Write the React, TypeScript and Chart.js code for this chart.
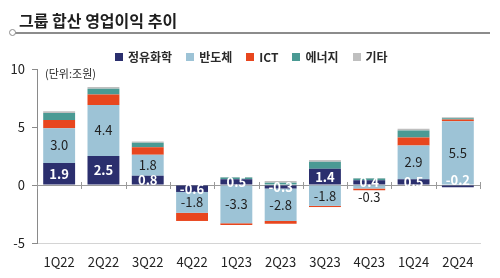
import React, { useEffect, useRef } from "react";
import { Chart, registerables } from "chart.js";

Chart.register(...registerables);

// Quarterly operating profit by business group (unit: trillion KRW)
const quarters = ["1Q22", "2Q22", "3Q22", "4Q22", "1Q23", "2Q23", "3Q23", "4Q23", "1Q24", "2Q24"];
const refining = [1.9, 2.5, 0.8, -0.6, 0.5, -0.3, 1.4, 0.4, 0.5, -0.2];
const semiconductor = [3.0, 4.4, 1.8, -1.8, -3.3, -2.8, -1.8, -0.3, 2.9, 5.5];
const ict = [0.7, 0.9, 0.65, -0.7, -0.15, -0.25, -0.1, -0.15, 0.7, 0.15];
const energy = [0.6, 0.5, 0.4, 0, 0.15, 0.2, 0.6, 0.15, 0.6, 0.1];
const others = [0.15, 0.15, 0.1, 0, 0.05, 0.15, 0.15, 0.05, 0.15, 0.1];

const seriesNames = ["정유화학", "반도체", "ICT", "에너지", "기타"];
const seriesColors = ["#2B2F6E", "#9DC3D6", "#E8461E", "#4A9A94", "#BFBFBF"];
const seriesValues = [refining, semiconductor, ict, energy, others];

const yMin = -5;
const yMax = 10;
const yStep = 5;

const FONT = '"Noto Sans CJK KR", "Noto Sans", sans-serif';

// Zero baseline with category separators
const zeroLinePlugin = {
  id: "zeroLine",
  beforeDatasetsDraw(chart: any) {
    const { ctx, chartArea, scales } = chart;
    const y0 = scales.y.getPixelForValue(0);
    const xs = scales.x;
    ctx.save();
    ctx.strokeStyle = "#9a9a9a";
    ctx.lineWidth = 1;
    ctx.beginPath();
    ctx.moveTo(chartArea.left, Math.round(y0) + 0.5);
    ctx.lineTo(chartArea.right, Math.round(y0) + 0.5);
    const n = quarters.length;
    for (let i = 0; i <= n; i++) {
      let x;
      if (i === 0) x = chartArea.left;
      else if (i === n) x = chartArea.right;
      else x = (xs.getPixelForValue(i - 1) + xs.getPixelForValue(i)) / 2;
      x = Math.round(x) + 0.5;
      ctx.moveTo(x, y0 - 3);
      ctx.lineTo(x, y0 + 4);
    }
    ctx.stroke();
    ctx.restore();
  },
};

// Value labels for the refining and semiconductor segments
const valueLabelPlugin = {
  id: "valueLabels",
  afterDatasetsDraw(chart: any) {
    const { ctx } = chart;
    ctx.save();
    ctx.textAlign = "center";
    ctx.textBaseline = "middle";
    [0, 1].forEach((di) => {
      const meta = chart.getDatasetMeta(di);
      const values = chart.data.datasets[di].data as number[];
      meta.data.forEach((bar: any, i: number) => {
        const v = values[i];
        const { x, y, base } = bar.getProps(["x", "y", "base"], true);
        const h = Math.abs(base - y);
        let ty = (y + base) / 2;
        const color = di === 0 ? "#ffffff" : "#1f1f1f";
        if (di === 1 && h < 10) {
          // too thin to hold its label: put it just past the bar end
          ty = v < 0 ? Math.max(y, base) + 9 : Math.min(y, base) - 9;
        } else if (di === 0 && h < 2.5) {
          // hairline segment: lift the label onto the neighbouring bar
          ty = base - 5;
        }
        ctx.font = (di === 0 ? "bold " : "") + "13px " + FONT;
        ctx.fillStyle = color;
        ctx.fillText(v.toFixed(1), x, ty);
      });
    });
    ctx.restore();
  },
};

function StackedChart() {
  const canvasRef = useRef<HTMLCanvasElement | null>(null);

  useEffect(() => {
    if (!canvasRef.current) return;
    const chart = new Chart(canvasRef.current, {
      type: "bar",
      data: {
        labels: quarters,
        datasets: seriesNames.map((name, k) => ({
          label: name,
          data: seriesValues[k],
          backgroundColor: seriesColors[k],
          borderWidth: 0,
          barPercentage: 0.72,
          categoryPercentage: 1,
        })),
      },
      options: {
        responsive: false,
        animation: false,
        devicePixelRatio: 1,
        layout: { padding: { top: 69, right: 20, bottom: 0, left: 0 } },
        plugins: {
          legend: { display: false },
          tooltip: { enabled: false },
          title: { display: false },
        },
        scales: {
          x: {
            stacked: true,
            grid: { display: false, drawTicks: false },
            border: { display: true, color: "#d4d4d4", width: 1 },
            ticks: {
              color: "#222222",
              font: { family: FONT, size: 13 },
              padding: 11,
            },
            afterFit(scale: any) {
              scale.height = 35;
            },
          },
          y: {
            stacked: true,
            min: yMin,
            max: yMax,
            grid: {
              display: true,
              drawOnChartArea: false,
              drawTicks: true,
              tickLength: 5,
              color: "#8a8a8a",
            },
            border: { display: true, color: "#8a8a8a", width: 1 },
            ticks: {
              stepSize: yStep,
              color: "#222222",
              font: { family: FONT, size: 13 },
              padding: 7,
            },
            afterFit(scale: any) {
              scale.width = 37;
            },
          },
        },
      },
      plugins: [zeroLinePlugin, valueLabelPlugin],
    });
    return () => chart.destroy();
  }, []);

  return (
    <canvas
      ref={canvasRef}
      width={500}
      height={278}
      style={{ position: "absolute", left: 0, top: 0, width: 500, height: 278 }}
    />
  );
}

export default function App() {
  return (
    <div
      style={{
        position: "fixed",
        left: 0,
        top: 0,
        width: 500,
        height: 278,
        background: "#ffffff",
        fontFamily: FONT,
        overflow: "hidden",
      }}
    >
      <StackedChart />
      <div
        style={{
          position: "absolute",
          left: 19,
          top: 8,
          fontSize: 16,
          fontWeight: 700,
          color: "#1e1e1e",
          lineHeight: "24px",
          whiteSpace: "nowrap",
        }}
      >
        그룹 합산 영업이익 추이
      </div>
      <div
        style={{
          position: "absolute",
          left: 15,
          top: 32,
          width: 475,
          height: 2,
          background: "#8c8c8c",
        }}
      />
      <div
        style={{
          position: "absolute",
          left: 9,
          top: 29,
          width: 5,
          height: 5,
          borderRadius: "50%",
          border: "1.5px solid #8c8c8c",
          background: "#ffffff",
        }}
      />
      <div
        style={{
          position: "absolute",
          left: 115,
          top: 48,
          display: "flex",
          alignItems: "center",
          gap: 14,
          fontSize: 12,
          fontWeight: 700,
          color: "#2a2a2a",
          lineHeight: "18px",
          whiteSpace: "nowrap",
        }}
      >
        {seriesNames.map((name, k) => (
          <div key={name} style={{ display: "flex", alignItems: "center" }}>
            <span
              style={{
                display: "inline-block",
                width: 8,
                height: 8,
                background: seriesColors[k],
                marginRight: 5,
              }}
            />
            <span>{name}</span>
          </div>
        ))}
      </div>
      <div
        style={{
          position: "absolute",
          left: 45,
          top: 65,
          fontSize: 11,
          color: "#2a2a2a",
          lineHeight: "16px",
          whiteSpace: "nowrap",
        }}
      >
        (단위:조원)
      </div>
    </div>
  );
}
